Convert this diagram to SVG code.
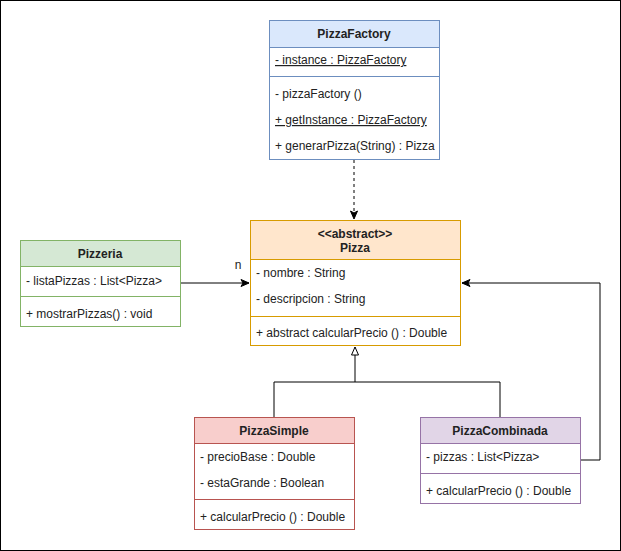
<svg xmlns="http://www.w3.org/2000/svg" width="621" height="551" viewBox="0 0 621 551">
  <style>
    text { font-family: "Liberation Sans", Arial, sans-serif; font-size: 12px; fill: #222; }
    .title { font-weight: bold; text-anchor: middle; }
    .line { fill: none; stroke: #000; stroke-width: 1; }
    .u { text-decoration: underline; }
  </style>
  <defs>
    <marker id="open" viewBox="0 0 10 10" refX="9" refY="5" markerWidth="10" markerHeight="10" markerUnits="userSpaceOnUse" orient="auto">
      <path d="M1,1.5 L9,5 L1,8.5 L3,5 Z" fill="#000" stroke="#000" stroke-width="1"/>
    </marker>
    <marker id="inherit" viewBox="0 0 10 10" refX="9" refY="5" markerWidth="10" markerHeight="10" markerUnits="userSpaceOnUse" orient="auto">
      <path d="M1,1.5 L9,5 L1,8.5 Z" fill="#fff" stroke="#000" stroke-width="1"/>
    </marker>
  </defs>

  <rect x="0.5" y="0.5" width="620" height="550" fill="#fff" stroke="#000"/>

  <g id="connectors">
    <path class="line" d="M354,160 V219" stroke-dasharray="3,3" marker-end="url(#open)"/>
    <path class="line" d="M180,283 H249" marker-end="url(#open)"/>
    <text x="238" y="269" style="text-anchor:middle">n</text>
    <path class="line" d="M274,417 V382 H500 V417"/>
    <path class="line" d="M355,382 V347" marker-end="url(#inherit)"/>
    <path class="line" d="M580,460 H600 V283 H462" marker-end="url(#open)"/>
  </g>

  <g id="PizzaFactory">
    <rect x="269.5" y="20.5" width="170" height="139" fill="#fff" stroke="#6c8ebf"/>
    <rect x="269.5" y="20.5" width="170" height="27" fill="#dae8fc" stroke="#6c8ebf"/>
    <line x1="269.5" y1="76.5" x2="439.5" y2="76.5" stroke="#6c8ebf"/>
    <text class="title" x="354" y="38">PizzaFactory</text>
    <text class="u" x="275" y="64">- instance : PizzaFactory</text>
    <text x="275" y="98">- pizzaFactory ()</text>
    <text class="u" x="275" y="124">+ getInstance : PizzaFactory</text>
    <text x="275" y="150">+ generarPizza(String) : Pizza</text>
  </g>

  <g id="Pizza">
    <rect x="250.5" y="220.5" width="210" height="125" fill="#fff" stroke="#d79b00"/>
    <rect x="250.5" y="220.5" width="210" height="39" fill="#ffe6cc" stroke="#d79b00"/>
    <line x1="250.5" y1="316.5" x2="460.5" y2="316.5" stroke="#d79b00"/>
    <text class="title" x="355" y="238">&lt;&lt;abstract&gt;&gt;</text>
    <text class="title" x="355" y="252">Pizza</text>
    <text x="256" y="277">- nombre : String</text>
    <text x="256" y="303">- descripcion : String</text>
    <text x="256" y="337">+ abstract calcularPrecio () : Double</text>
  </g>

  <g id="Pizzeria">
    <rect x="20.5" y="240.5" width="160" height="86" fill="#fff" stroke="#82b366"/>
    <rect x="20.5" y="240.5" width="160" height="26" fill="#d5e8d4" stroke="#82b366"/>
    <line x1="20.5" y1="296.5" x2="180.5" y2="296.5" stroke="#82b366"/>
    <text class="title" x="100" y="258">Pizzeria</text>
    <text x="26" y="285">- listaPizzas : List&lt;Pizza&gt;</text>
    <text x="26" y="318">+ mostrarPizzas() : void</text>
  </g>

  <g id="PizzaSimple">
    <rect x="194.5" y="417.5" width="160" height="112" fill="#fff" stroke="#b85450"/>
    <rect x="194.5" y="417.5" width="160" height="26" fill="#f8cecc" stroke="#b85450"/>
    <line x1="194.5" y1="499.5" x2="354.5" y2="499.5" stroke="#b85450"/>
    <text class="title" x="274" y="435">PizzaSimple</text>
    <text x="200" y="461">- precioBase : Double</text>
    <text x="200" y="487">- estaGrande : Boolean</text>
    <text x="200" y="521">+ calcularPrecio () : Double</text>
  </g>

  <g id="PizzaCombinada">
    <rect x="420.5" y="417.5" width="160" height="86" fill="#fff" stroke="#9673a6"/>
    <rect x="420.5" y="417.5" width="160" height="26" fill="#e1d5e7" stroke="#9673a6"/>
    <line x1="420.5" y1="473.5" x2="580.5" y2="473.5" stroke="#9673a6"/>
    <text class="title" x="500" y="435">PizzaCombinada</text>
    <text x="426" y="461">- pizzas : List&lt;Pizza&gt;</text>
    <text x="426" y="495">+ calcularPrecio () : Double</text>
  </g>
</svg>
